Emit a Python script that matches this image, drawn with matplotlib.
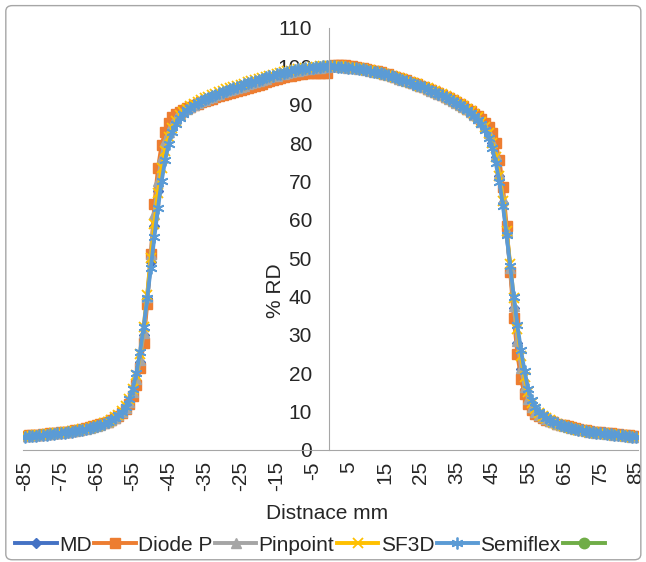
import numpy as np
import matplotlib
matplotlib.use("Agg")
import matplotlib.pyplot as plt
from matplotlib.patches import FancyBboxPatch

plt.rcParams['font.family'] = ['Liberation Sans', 'DejaVu Sans']

# distance in mm (one point per mm)
distance = np.arange(-85, 86)
tick_labels = list(range(-85, 86, 10))

md = [
    3.6, 3.6, 3.7, 3.8, 3.9, 4.0, 4.0, 4.1, 4.2, 4.3,
    4.4, 4.6, 4.7, 4.8, 5.0, 5.2, 5.3, 5.5, 5.8, 6.0,
    6.3, 6.6, 6.9, 7.3, 7.8, 8.4, 9.0, 9.8, 10.9, 12.4,
    14.6, 18.0, 23.0, 30.0, 39.5, 49.0, 58.5, 67.5, 75.0, 79.5,
    82.3, 84.5, 86.0, 87.2, 88.1, 88.8, 89.4, 89.9, 90.4, 90.8,
    91.2, 91.6, 92.0, 92.4, 92.8, 93.1, 93.4, 93.7, 94.0, 94.3,
    94.6, 94.9, 95.2, 95.5, 95.8, 96.1, 96.4, 96.7, 97.0, 97.3,
    97.5, 97.8, 98.0, 98.2, 98.4, 98.6, 98.8, 99.0, 99.2, 99.3,
    99.4, 99.5, 99.6, 99.7, 99.8, 100.0, 99.9, 99.9, 99.8, 99.7,
    99.6, 99.5, 99.4, 99.2, 99.1, 98.9, 98.7, 98.5, 98.3, 98.1,
    97.8, 97.6, 97.3, 97.0, 96.7, 96.4, 96.1, 95.8, 95.5, 95.1,
    94.8, 94.4, 94.0, 93.6, 93.2, 92.8, 92.4, 91.9, 91.4, 90.9,
    90.4, 89.9, 89.3, 88.7, 88.0, 87.3, 86.4, 85.3, 84.0, 82.3,
    80.0, 76.5, 71.5, 64.5, 56.5, 47.0, 37.0, 28.0, 21.0, 16.0,
    13.0, 11.0, 9.9, 9.1, 8.5, 8.0, 7.5, 7.1, 6.8, 6.5,
    6.2, 5.9, 5.7, 5.5, 5.3, 5.1, 4.9, 4.8, 4.6, 4.5,
    4.4, 4.3, 4.2, 4.1, 4.0, 3.9, 3.8, 3.7, 3.6, 3.5,
    3.4]

diode_p = [
    3.7, 3.8, 3.8, 3.9, 4.0, 4.1, 4.2, 4.3, 4.4, 4.5,
    4.6, 4.7, 4.8, 5.0, 5.1, 5.3, 5.5, 5.7, 5.9, 6.2,
    6.4, 6.7, 7.0, 7.4, 7.8, 8.3, 8.9, 9.6, 10.6, 12.0,
    14.0, 17.0, 21.5, 28.0, 38.0, 51.0, 64.0, 73.5, 79.5, 83.0,
    85.2, 86.7, 87.6, 88.2, 88.7, 89.1, 89.5, 89.9, 90.3, 90.7,
    91.0, 91.3, 91.6, 91.9, 92.2, 92.5, 92.7, 93.0, 93.2, 93.5,
    93.8, 94.0, 94.3, 94.6, 94.9, 95.2, 95.5, 95.8, 96.1, 96.4,
    96.7, 96.9, 97.2, 97.4, 97.6, 97.8, 98.0, 98.1, 98.2, 98.2,
    98.3, 98.3, 98.3, 98.3, 98.3, 100.0, 100.3, 100.4, 100.4, 100.3,
    100.2, 100.1, 99.9, 99.7, 99.5, 99.3, 99.1, 98.9, 98.7, 98.4,
    98.1, 97.9, 97.6, 97.3, 97.0, 96.7, 96.4, 96.0, 95.7, 95.3,
    95.0, 94.6, 94.2, 93.8, 93.4, 93.0, 92.6, 92.1, 91.7, 91.2,
    90.7, 90.2, 89.6, 89.0, 88.4, 87.7, 87.0, 86.2, 85.3, 84.2,
    82.6, 80.0, 75.5, 68.5, 58.5, 46.5, 34.5, 25.0, 18.5, 14.5,
    12.0, 10.5, 9.5, 8.8, 8.3, 7.9, 7.5, 7.2, 6.9, 6.6,
    6.4, 6.2, 6.0, 5.7, 5.5, 5.3, 5.1, 5.0, 4.8, 4.7,
    4.6, 4.5, 4.4, 4.3, 4.2, 4.1, 4.0, 3.9, 3.8, 3.7,
    3.6]

pinpoint = [
    3.6, 3.7, 3.7, 3.8, 3.9, 4.0, 4.1, 4.2, 4.3, 4.4,
    4.5, 4.6, 4.7, 4.9, 5.0, 5.2, 5.4, 5.6, 5.8, 6.1,
    6.3, 6.6, 7.0, 7.4, 7.9, 8.4, 9.1, 9.9, 11.0, 12.6,
    15.0, 18.5, 23.5, 30.5, 40.0, 51.0, 61.5, 70.0, 76.5, 80.5,
    83.0, 85.0, 86.5, 87.5, 88.3, 89.0, 89.5, 90.0, 90.5, 90.9,
    91.3, 91.7, 92.1, 92.5, 92.9, 93.2, 93.5, 93.8, 94.1, 94.4,
    94.7, 95.0, 95.3, 95.6, 95.9, 96.2, 96.5, 96.8, 97.1, 97.4,
    97.6, 97.9, 98.1, 98.3, 98.5, 98.7, 98.9, 99.1, 99.3, 99.4,
    99.5, 99.6, 99.7, 99.8, 99.9, 100.0, 100.0, 100.0, 99.9, 99.8,
    99.7, 99.6, 99.5, 99.3, 99.2, 99.0, 98.8, 98.6, 98.4, 98.2,
    97.9, 97.7, 97.4, 97.1, 96.8, 96.5, 96.2, 95.9, 95.6, 95.2,
    94.9, 94.5, 94.1, 93.7, 93.3, 92.9, 92.5, 92.0, 91.5, 91.0,
    90.5, 90.0, 89.4, 88.8, 88.1, 87.4, 86.5, 85.5, 84.2, 82.6,
    80.3, 77.0, 72.0, 65.5, 57.0, 47.5, 37.5, 28.5, 21.5, 16.5,
    13.2, 11.2, 10.0, 9.2, 8.6, 8.1, 7.6, 7.2, 6.9, 6.6,
    6.3, 6.0, 5.8, 5.6, 5.4, 5.2, 5.0, 4.8, 4.7, 4.5,
    4.4, 4.3, 4.2, 4.1, 4.0, 3.9, 3.8, 3.7, 3.6, 3.5,
    3.5]

sf3d = [
    3.6, 3.7, 3.7, 3.8, 3.9, 4.0, 4.1, 4.2, 4.3, 4.4,
    4.5, 4.6, 4.7, 4.9, 5.0, 5.2, 5.4, 5.6, 5.8, 6.1,
    6.3, 6.6, 7.0, 7.4, 7.9, 8.5, 9.2, 10.1, 11.4, 13.2,
    15.8, 19.5, 25.0, 32.0, 40.5, 50.0, 59.0, 67.0, 73.5, 78.0,
    81.5, 84.0, 85.8, 87.2, 88.2, 89.0, 89.7, 90.3, 90.8, 91.3,
    91.7, 92.1, 92.5, 92.9, 93.3, 93.6, 94.0, 94.3, 94.6, 94.9,
    95.2, 95.5, 95.8, 96.1, 96.4, 96.7, 97.0, 97.3, 97.6, 97.8,
    98.1, 98.3, 98.5, 98.7, 98.9, 99.1, 99.3, 99.4, 99.6, 99.7,
    99.8, 99.9, 100.0, 100.1, 100.1, 100.1, 100.1, 100.1, 100.0, 99.9,
    99.8, 99.7, 99.6, 99.5, 99.3, 99.1, 99.0, 98.8, 98.6, 98.3,
    98.1, 97.8, 97.5, 97.2, 96.9, 96.6, 96.3, 96.0, 95.7, 95.3,
    95.0, 94.6, 94.3, 93.9, 93.5, 93.1, 92.7, 92.2, 91.7, 91.2,
    90.7, 90.2, 89.6, 89.0, 88.3, 87.6, 86.7, 85.6, 84.3, 82.5,
    80.0, 76.5, 71.5, 65.0, 57.0, 48.5, 39.5, 31.5, 24.5, 19.0,
    15.0, 12.3, 10.8, 9.7, 8.9, 8.3, 7.8, 7.3, 6.9, 6.6,
    6.3, 6.0, 5.8, 5.5, 5.3, 5.1, 5.0, 4.8, 4.7, 4.5,
    4.4, 4.3, 4.2, 4.1, 4.0, 3.9, 3.8, 3.7, 3.6, 3.5,
    3.5]

semiflex = [
    3.5, 3.6, 3.6, 3.7, 3.8, 3.9, 4.0, 4.1, 4.2, 4.3,
    4.4, 4.5, 4.6, 4.8, 4.9, 5.1, 5.3, 5.5, 5.7, 6.0,
    6.2, 6.5, 6.9, 7.3, 7.8, 8.4, 9.1, 10.0, 11.3, 13.2,
    16.0, 20.0, 25.5, 32.0, 39.5, 47.5, 55.5, 63.0, 70.0, 75.5,
    79.8, 82.8, 85.0, 86.5, 87.6, 88.5, 89.2, 89.8, 90.4, 90.9,
    91.4, 91.8, 92.2, 92.6, 93.0, 93.4, 93.7, 94.0, 94.3, 94.7,
    95.0, 95.3, 95.6, 95.9, 96.2, 96.5, 96.8, 97.1, 97.4, 97.6,
    97.9, 98.1, 98.3, 98.6, 98.8, 99.0, 99.2, 99.3, 99.5, 99.6,
    99.7, 99.8, 99.9, 100.0, 100.0, 100.0, 100.0, 99.9, 99.9, 99.8,
    99.7, 99.6, 99.5, 99.3, 99.2, 99.0, 98.8, 98.6, 98.4, 98.2,
    97.9, 97.7, 97.4, 97.1, 96.8, 96.5, 96.2, 95.9, 95.5, 95.2,
    94.8, 94.5, 94.1, 93.7, 93.3, 92.9, 92.5, 92.0, 91.5, 91.0,
    90.5, 89.9, 89.3, 88.6, 87.9, 87.1, 86.1, 84.9, 83.4, 81.4,
    78.6, 74.8, 69.8, 63.5, 56.0, 48.0, 40.0, 32.5, 26.0, 20.5,
    16.0, 13.0, 11.2, 10.0, 9.1, 8.4, 7.9, 7.4, 7.0, 6.6,
    6.3, 6.0, 5.8, 5.5, 5.3, 5.1, 4.9, 4.8, 4.6, 4.5,
    4.4, 4.3, 4.2, 4.1, 4.0, 3.9, 3.8, 3.7, 3.6, 3.5,
    3.4]

fig = plt.figure(figsize=(6.46, 5.62), dpi=100)
ax = fig.add_axes([0.0359, 0.1993, 0.9514, 0.7509])

lw = 2.8
fs = 15
ax.plot(distance, md, color='#4472C4', marker='D', ms=5.5, lw=lw, label='MD')
ax.plot(distance, diode_p, color='#ED7D31', marker='s', ms=7, lw=lw, label='Diode P')
ax.plot(distance, pinpoint, color='#A5A5A5', marker='^', ms=7.5, lw=lw, label='Pinpoint')
ax.plot(distance, sf3d, color='#FFC000', marker='x', ms=7.5, mew=1.3, lw=lw, label='SF3D')
ax.plot(distance, semiflex, color='#5B9BD5', marker=(6, 2, 0), ms=8.5, mew=1.3, lw=lw, label='Semiflex')
ax.plot([], [], color='#70AD47', marker='o', ms=7.5, lw=lw, label=' ')

ax.set_xlim(-85.5, 85.5)
ax.set_ylim(0, 110)
ax.set_yticks(range(0, 111, 10))
ax.set_xticks(tick_labels)
ax.set_xticklabels([str(t) for t in tick_labels], rotation=90)

for s in ['top', 'right']:
    ax.spines[s].set_visible(False)
ax.spines['left'].set_position(('data', -0.5))
ax.spines['left'].set_color('#A6A6A6')
ax.spines['bottom'].set_color('#A6A6A6')
ax.tick_params(axis='y', length=0, pad=12, labelsize=fs, labelcolor='#262626')
ax.tick_params(axis='x', length=0, pad=8, labelsize=fs, labelcolor='#262626')
ax.patch.set_alpha(0)

ax.text(-15.4, 41.5, '% RD', rotation=90, ha='center', va='center', fontsize=fs, color='#262626')
fig.text(0.506, 0.087, 'Distnace mm', ha='center', va='center', fontsize=fs, color='#262626')

fig.legend(loc='center', bbox_to_anchor=(0.486, 0.03), ncol=6, frameon=False,
           fontsize=fs, handlelength=2.0, handletextpad=0.1, columnspacing=0.12,
           labelcolor='#262626')

fig.patches.append(FancyBboxPatch((0.009, 0.004), 0.983, 0.986, boxstyle='round,pad=0,rounding_size=0.01',
                                  transform=fig.transFigure, fill=False, ec='#A6A6A6', lw=1))

fig.savefig('out.png', dpi=100)
